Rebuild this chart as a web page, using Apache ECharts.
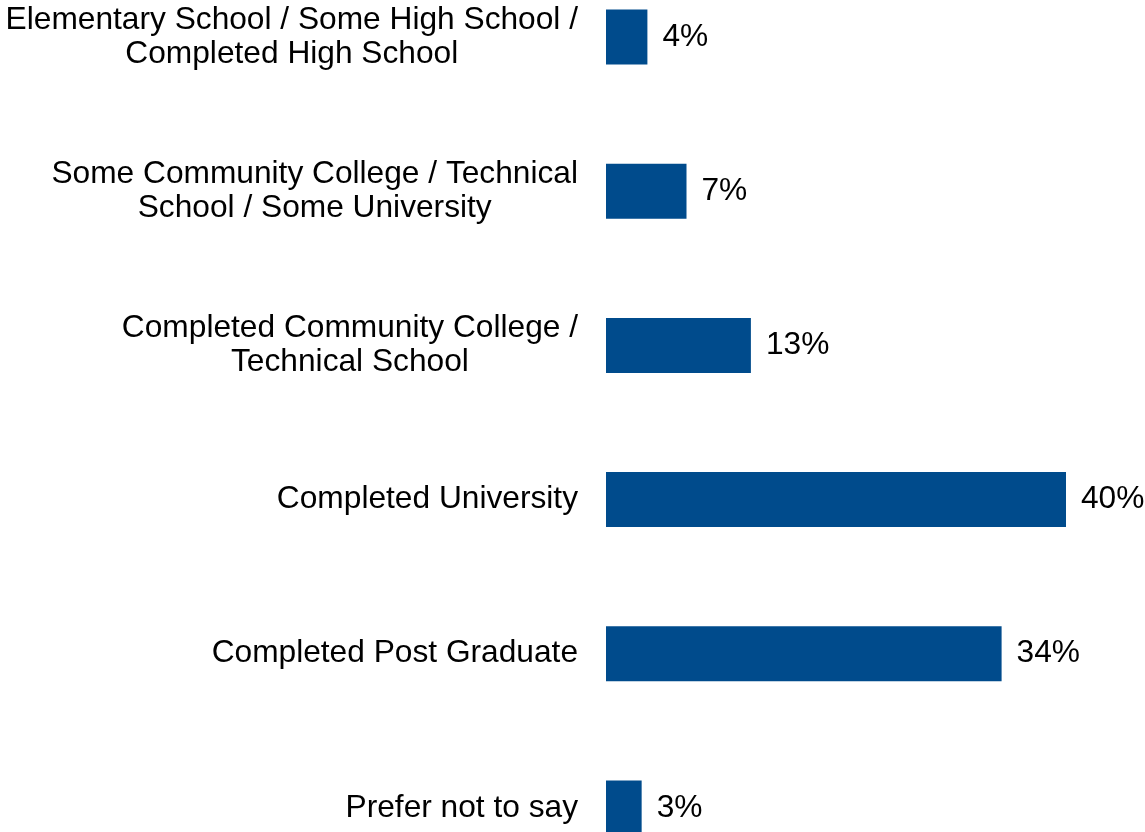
<!DOCTYPE html>
<html>
<head>
<meta charset="utf-8">
<title>Education</title>
<script src="https://cdn.jsdelivr.net/npm/echarts@6/dist/echarts.min.js"></script>
<style>
  html, body { margin: 0; padding: 0; background: #fff; overflow: hidden; }
  /* the plot runs past the top and bottom edge of the picture */
  #chart { width: 1145px; height: 925px; position: relative; top: -40px; }
</style>
</head>
<body>
<div id="chart"></div>
<script>
// categories, top to bottom (each line of a label is one entry)
const categories = [
  ['Elementary School / Some High School /', 'Completed High School'],
  ['Some Community College / Technical', 'School / Some University'],
  ['Completed Community College /', 'Technical School'],
  ['Completed University'],
  ['Completed Post Graduate'],
  ['Prefer not to say']
]
// bar lengths (percent)
const values = [3.6, 7.0, 12.6, 40.0, 34.4, 3.1]
// printed labels
const labels = ['4%', '7%', '13%', '40%', '34%', '3%']

const font = 'Liberation Sans, Arial, sans-serif'

const chart = echarts.init(document.getElementById('chart'))

chart.setOption({
  animation: false,
  grid: {
    left: 606,
    right: 79,
    top: 0,
    bottom: 0,
    containLabel: false,
    outerBoundsMode: 'none'
  },
  xAxis: {
    type: 'value',
    min: 0,
    max: 40,
    show: false
  },
  yAxis: {
    type: 'category',
    inverse: true,
    data: categories.map(c => c.join('\n')),
    axisLine: { show: false },
    axisTick: { show: false },
    axisLabel: {
      margin: 28,
      align: 'right',
      // lines centred on each other, block set flush against the bars
      formatter: v => v.split('\n').map(s => '{c|' + s + '}').join('\n'),
      rich: {
        c: {
          align: 'center',
          fontSize: 31.7,
          lineHeight: 34,
          color: '#000',
          fontFamily: font
        }
      }
    }
  },
  series: [{
    type: 'bar',
    data: values,
    barWidth: 55,
    itemStyle: { color: '#004b8c' },
    label: {
      show: true,
      position: 'right',
      distance: 15,
      fontSize: 31.7,
      color: '#000',
      fontFamily: font,
      formatter: p => labels[p.dataIndex]
    }
  }]
})

window.addEventListener('resize', chart.resize)
</script>
</body>
</html>
